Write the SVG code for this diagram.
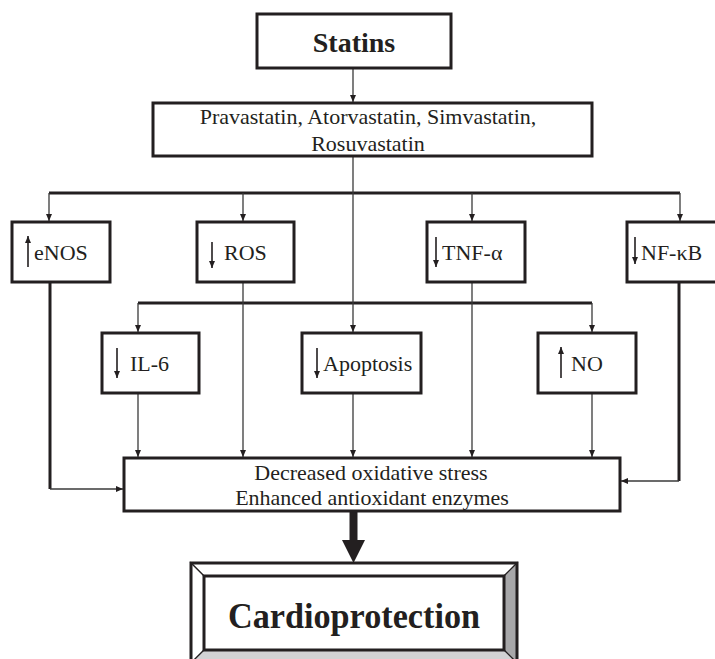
<svg xmlns="http://www.w3.org/2000/svg" width="715" height="659" viewBox="0 0 715 659">
<defs>
<marker id="ah" markerWidth="8" markerHeight="8" refX="7" refY="4" orient="auto" markerUnits="userSpaceOnUse">
<path d="M0,1 L7,4 L0,7 Z" fill="#231f20"/>
</marker>
<marker id="sa" markerWidth="8" markerHeight="8" refX="7" refY="4" orient="auto" markerUnits="userSpaceOnUse">
<path d="M0,1 L7,4 L0,7 Z" fill="#231f20"/>
</marker>
<style>
.box{fill:#fff;stroke:#231f20;stroke-width:3}
.t{font-family:"Liberation Serif","Times New Roman",serif;font-size:22px;fill:#231f20}
.tb{font-family:"Liberation Serif","Times New Roman",serif;font-weight:bold;fill:#231f20}
.c{fill:none;stroke:#3a3a3a;stroke-width:1.3}
.cA{fill:none;stroke:#3a3a3a;stroke-width:1.3;marker-end:url(#ah)}
.bus{fill:none;stroke:#231f20;stroke-width:3}
.sym{fill:none;stroke:#231f20;stroke-width:1.6;marker-end:url(#sa)}
</style>
</defs>
<rect width="715" height="659" fill="#fff"/>

<g id="connectors">
<line class="cA" x1="353" y1="68" x2="353" y2="102"/>
<line class="bus" x1="49" y1="193" x2="680" y2="193"/>
<line class="c" x1="353" y1="156" x2="353" y2="193"/>
<line class="cA" x1="49" y1="193" x2="49" y2="221"/>
<line class="cA" x1="243" y1="193" x2="243" y2="221"/>
<line class="cA" x1="472" y1="193" x2="472" y2="221"/>
<line class="cA" x1="680" y1="193" x2="680" y2="221"/>
<line class="bus" x1="138" y1="303" x2="592" y2="303"/>
<line class="cA" x1="353" y1="193" x2="353" y2="332"/>
<line class="cA" x1="138" y1="303" x2="138" y2="332"/>
<line class="cA" x1="592" y1="303" x2="592" y2="332"/>
<line class="cA" x1="243" y1="282" x2="243" y2="457"/>
<line class="cA" x1="472" y1="282" x2="472" y2="457"/>
<line class="cA" x1="138" y1="393" x2="138" y2="457"/>
<line class="cA" x1="353" y1="393" x2="353" y2="457"/>
<line class="cA" x1="592" y1="393" x2="592" y2="457"/>
<polyline class="bus" points="50,282 50,489"/>
<line class="cA" x1="50" y1="489" x2="123" y2="489"/>
<polyline class="bus" points="679,282 679,481"/>
<line class="cA" x1="679" y1="481" x2="621" y2="481"/>
<line x1="353.5" y1="511" x2="353.5" y2="542" stroke="#231f20" stroke-width="8"/>
<path d="M342,540 L365,540 L353.5,563 Z" fill="#231f20"/>
</g>

<g id="statins">
<rect class="box" x="257" y="14" width="194" height="54"/>
<text class="tb" x="354" y="52" font-size="28" text-anchor="middle">Statins</text>
</g>

<g id="drugs">
<rect class="box" x="153" y="103" width="439" height="53"/>
<text class="t" x="368" y="124" text-anchor="middle">Pravastatin, Atorvastatin, Simvastatin,</text>
<text class="t" x="368" y="151" text-anchor="middle">Rosuvastatin</text>
</g>

<g id="enos">
<rect class="box" x="12" y="222" width="98" height="60"/>
<line class="sym" x1="28" y1="267" x2="28" y2="236"/>
<text class="t" x="34" y="260">eNOS</text>
</g>

<g id="ros">
<rect class="box" x="197" y="222" width="97" height="60"/>
<line class="sym" x1="212" y1="242" x2="212" y2="268"/>
<text class="t" x="224" y="260">ROS</text>
</g>

<g id="tnf">
<rect class="box" x="427" y="222" width="98" height="60"/>
<line class="sym" x1="436" y1="237" x2="436" y2="267"/>
<text class="t" x="442" y="260">TNF-α</text>
</g>

<g id="nfkb">
<rect class="box" x="627" y="222" width="95" height="60"/>
<line class="sym" x1="635" y1="237" x2="635" y2="264"/>
<text class="t" x="641" y="260">NF-κB</text>
</g>

<g id="il6">
<rect class="box" x="102" y="333" width="97" height="60"/>
<line class="sym" x1="117" y1="348" x2="117" y2="378"/>
<text class="t" x="130" y="371">IL-6</text>
</g>

<g id="apoptosis">
<rect class="box" x="302" y="333" width="119" height="60"/>
<line class="sym" x1="317" y1="348" x2="317" y2="378"/>
<text class="t" x="323" y="371">Apoptosis</text>
</g>

<g id="no">
<rect class="box" x="538" y="333" width="98" height="60"/>
<line class="sym" x1="561" y1="378" x2="561" y2="347"/>
<text class="t" x="571" y="371">NO</text>
</g>

<g id="oxidative">
<rect class="box" x="124" y="458" width="496" height="53"/>
<text class="t" x="371" y="480" text-anchor="middle">Decreased oxidative stress</text>
<text class="t" x="372" y="505" text-anchor="middle">Enhanced antioxidant enzymes</text>
</g>

<g id="cardioprotection">
<polygon points="191,563 517,563 504,576 204,576" fill="#fff" stroke="#231f20" stroke-width="1.2"/>
<polygon points="191,563 204,576 204,650 191,663" fill="#fff" stroke="#231f20" stroke-width="1.2"/>
<polygon points="517,563 517,663 504,650 504,576" fill="#a7a7a9" stroke="#231f20" stroke-width="1.2"/>
<polygon points="191,663 204,650 504,650 517,663" fill="#d2d2d4" stroke="#231f20" stroke-width="1.2"/>
<rect x="191" y="563" width="326" height="100" fill="none" stroke="#231f20" stroke-width="3"/>
<rect x="204" y="576" width="300" height="74" fill="#fff" stroke="#231f20" stroke-width="3"/>
<text class="tb" x="354" y="628" font-size="36" text-anchor="middle" textLength="252" lengthAdjust="spacingAndGlyphs">Cardioprotection</text>
</g>
</svg>
